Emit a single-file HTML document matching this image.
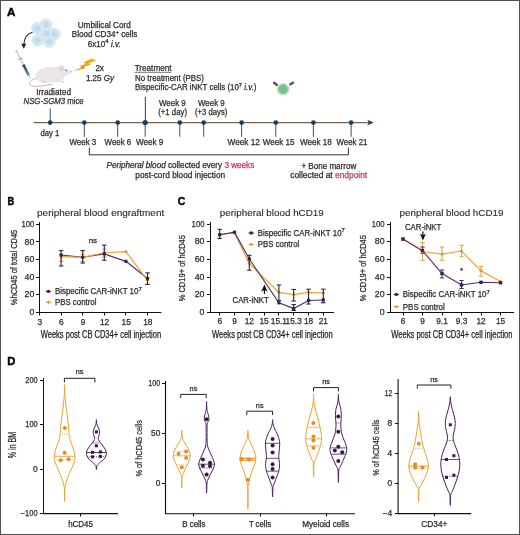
<!DOCTYPE html>
<html><head><meta charset="utf-8"><title>Figure</title>
<style>
html,body{margin:0;padding:0;background:#fff;width:520px;height:535px;overflow:hidden;}
svg{display:block;will-change:transform;}
text{font-family:"Liberation Sans", sans-serif;}
</style></head>
<body>
<svg width="520" height="535" viewBox="0 0 520 535">
<rect x="0.5" y="0.5" width="519" height="534" fill="#fff" stroke="#505050" stroke-width="1"/>
<text x="6.90" y="16.20" font-size="11.5" fill="#000" stroke="#000" font-weight="bold" textLength="8.40" lengthAdjust="spacingAndGlyphs" stroke-width="0.45">A</text>
<circle cx="37.30" cy="28.30" r="5.7" fill="#d8e8f3" stroke="#c6dcec" stroke-width="0.7"/>
<circle cx="46.00" cy="24.60" r="5.7" fill="#d8e8f3" stroke="#c6dcec" stroke-width="0.7"/>
<circle cx="46.00" cy="33.30" r="5.7" fill="#d8e8f3" stroke="#c6dcec" stroke-width="0.7"/>
<circle cx="54.60" cy="34.00" r="5.7" fill="#d8e8f3" stroke="#c6dcec" stroke-width="0.7"/>
<circle cx="37.80" cy="40.30" r="5.7" fill="#d8e8f3" stroke="#c6dcec" stroke-width="0.7"/>
<circle cx="49.30" cy="41.60" r="5.7" fill="#d8e8f3" stroke="#c6dcec" stroke-width="0.7"/>
<circle cx="37.30" cy="28.30" r="3.0" fill="#c3daeb" />
<circle cx="46.00" cy="24.60" r="3.0" fill="#c3daeb" />
<circle cx="46.00" cy="33.30" r="3.0" fill="#c3daeb" />
<circle cx="54.60" cy="34.00" r="3.0" fill="#c3daeb" />
<circle cx="37.80" cy="40.30" r="3.0" fill="#c3daeb" />
<circle cx="49.30" cy="41.60" r="3.0" fill="#c3daeb" />
<path d="M32.5,32.2 C27,33.5 24,38 23.8,45.5" fill="none" stroke="#222" stroke-width="1.1" />
<path d="M21.2,43.8 L23.8,48.8 L26.2,43.8 Z" fill="#222" />
<defs><linearGradient id="syr" x1="0" y1="0" x2="0" y2="1"><stop offset="0" stop-color="#203c54"/><stop offset="1" stop-color="#7b9bb0"/></linearGradient></defs>
<g transform="translate(23.3,64.6) rotate(-27)"><rect x="-1.2" y="-15.6" width="2.4" height="0.9" fill="#9a9a9a"/><rect x="-0.4" y="-15" width="0.8" height="9" fill="#b0b0b0"/><rect x="-2.1" y="-6.8" width="4.2" height="0.9" fill="#8c8c8c"/><rect x="-1.3" y="-6" width="2.6" height="6.2" fill="#d9dee2"/><rect x="-1.3" y="0" width="2.6" height="12.4" fill="url(#syr)"/><rect x="-0.3" y="12.4" width="0.6" height="3.6" fill="#8fb0c8"/></g>
<path d="M37,78.4 C32,78.8 29,81.8 29.6,84.6 C30.4,87.4 40,86.6 52.5,84.2" fill="none" stroke="#dfaab2" stroke-width="1.0" />
<path d="M36.2,76.5 C36,71.5 42,68 49,67.8 C53,67.7 56.5,67 60,67.3 C64.5,67.9 68.5,70 71.6,72 C69.5,73.8 66.8,74.8 64.5,75.8 C63.6,78.8 61,81.2 56,81.8 C50,82.4 43,82.4 39,80.8 C37.2,79.8 36.2,78.4 36.2,76.5 Z" fill="#ebe6e8" stroke="#d6ced2" stroke-width="0.5" />
<ellipse cx="61.3" cy="68.3" rx="2.3" ry="2.6" fill="#efd2d8" stroke="#dcc0c6" stroke-width="0.5"/>
<circle cx="66.20" cy="70.60" r="0.75" fill="#5a5a66" />
<circle cx="71.60" cy="71.60" r="0.6" fill="#e3a0aa" />
<ellipse cx="43.5" cy="81.8" rx="2.4" ry="0.9" fill="#e0d2d6"/>
<ellipse cx="62.6" cy="81.6" rx="2.2" ry="0.9" fill="#e0d2d6"/>
<defs><linearGradient id="bolt" x1="1" y1="0" x2="0" y2="1"><stop offset="0" stop-color="#f7b500"/><stop offset="1" stop-color="#f07f10"/></linearGradient></defs>
<path d="M96,60.6 L92,58.6 L83.8,62.3 L85.6,64 L79.8,66.3 L81.6,67.5 L73.6,71 L85.5,68.3 L84,66.8 L90.6,64.6 L88.6,63.2 Z" fill="url(#bolt)" />
<text x="77.70" y="28.00" font-size="8.3" fill="#2b2b2b" stroke="#2b2b2b" stroke-width="0.25" textLength="53.10" lengthAdjust="spacingAndGlyphs">Umbilical Cord</text>
<text x="71.80" y="37.30" font-size="8.3" fill="#2b2b2b" stroke="#2b2b2b" stroke-width="0.25" textLength="65.60" lengthAdjust="spacingAndGlyphs">Blood CD34<tspan font-size="6.2" dy="-3.5">+</tspan><tspan dy="3.5"> cells</tspan></text>
<text x="87.70" y="46.50" font-size="8.3" fill="#2b2b2b" stroke="#2b2b2b" stroke-width="0.25" textLength="33.10" lengthAdjust="spacingAndGlyphs">6x10<tspan font-size="6.2" dy="-3.5">4</tspan><tspan dy="3.5"> </tspan><tspan font-style="italic">i.v.</tspan></text>
<text x="95.40" y="71.00" font-size="8.3" fill="#2b2b2b" stroke="#2b2b2b" stroke-width="0.25" textLength="8.50" lengthAdjust="spacingAndGlyphs">2x</text>
<text x="85.90" y="80.70" font-size="8.3" fill="#2b2b2b" stroke="#2b2b2b" stroke-width="0.25" textLength="28.10" lengthAdjust="spacingAndGlyphs">1.25 <tspan font-style="italic">Gy</tspan></text>
<text x="36.20" y="94.60" font-size="8.3" fill="#2b2b2b" stroke="#2b2b2b" stroke-width="0.25" textLength="34.80" lengthAdjust="spacingAndGlyphs">Irradiated</text>
<text x="23.50" y="104.20" font-size="8.3" fill="#2b2b2b" stroke="#2b2b2b" stroke-width="0.25" textLength="60.20" lengthAdjust="spacingAndGlyphs"><tspan font-style="italic">NSG-SGM3</tspan> mice</text>
<text x="134.70" y="71.20" font-size="8.3" fill="#2b2b2b" stroke="#2b2b2b" stroke-width="0.25" textLength="36.80" lengthAdjust="spacingAndGlyphs">Treatment</text>
<line x1="134.70" y1="72.40" x2="171.50" y2="72.40" stroke="#2b2b2b" stroke-width="0.6" />
<text x="135.00" y="80.60" font-size="8.3" fill="#2b2b2b" stroke="#2b2b2b" stroke-width="0.25" textLength="69.00" lengthAdjust="spacingAndGlyphs">No treatment (PBS)</text>
<text x="135.00" y="90.00" font-size="8.3" fill="#2b2b2b" stroke="#2b2b2b" stroke-width="0.25" textLength="121.50" lengthAdjust="spacingAndGlyphs">Bispecific-CAR iNKT cells (10<tspan font-size="6.2" dy="-3.5">7</tspan><tspan dy="3.5"> </tspan><tspan font-style="italic">i.v.</tspan>)</text>
<circle cx="283.10" cy="89.20" r="6.3" fill="#bfe0c8" />
<circle cx="283.10" cy="89.20" r="4.6" fill="#74c08e" />
<g transform="translate(275.4,83.8) rotate(40)"><rect x="-2.8" y="-1.15" width="5.6" height="2.3" rx="1" fill="#4a3434"/><rect x="-2.4" y="-0.2" width="4.8" height="0.4" fill="#8a7070"/></g>
<g transform="translate(291.7,83.5) rotate(-30)"><rect x="-2.8" y="-1.15" width="5.6" height="2.3" rx="1" fill="#3a4a60"/><rect x="-2.4" y="-0.2" width="4.8" height="0.4" fill="#7a8aa0"/></g>
<line x1="33.70" y1="122.60" x2="369.00" y2="122.60" stroke="#766452" stroke-width="1.2" />
<path d="M373.8,122.6 L367.2,119.8 L368.8,122.6 L367.2,125.39999999999999 Z" fill="#4a3518" />
<line x1="50.20" y1="108.50" x2="50.20" y2="122.60" stroke="#34546f" stroke-width="1" />
<line x1="145.40" y1="97.00" x2="145.40" y2="122.60" stroke="#34546f" stroke-width="1.1" />
<line x1="84.30" y1="122.60" x2="84.30" y2="136.80" stroke="#34546f" stroke-width="1" />
<line x1="117.70" y1="122.60" x2="117.70" y2="136.80" stroke="#34546f" stroke-width="1" />
<line x1="145.20" y1="122.60" x2="145.20" y2="136.80" stroke="#34546f" stroke-width="1" />
<line x1="179.80" y1="122.60" x2="179.80" y2="136.80" stroke="#34546f" stroke-width="1" />
<line x1="203.70" y1="122.60" x2="203.70" y2="136.80" stroke="#34546f" stroke-width="1" />
<line x1="241.60" y1="122.60" x2="241.60" y2="136.80" stroke="#34546f" stroke-width="1" />
<line x1="275.80" y1="122.60" x2="275.80" y2="136.80" stroke="#34546f" stroke-width="1" />
<line x1="313.40" y1="122.60" x2="313.40" y2="136.80" stroke="#34546f" stroke-width="1" />
<line x1="351.10" y1="122.60" x2="351.10" y2="136.80" stroke="#34546f" stroke-width="1" />
<circle cx="50.20" cy="122.60" r="2.35" fill="#173d60" />
<circle cx="84.30" cy="122.60" r="2.35" fill="#173d60" />
<circle cx="117.70" cy="122.60" r="2.35" fill="#173d60" />
<circle cx="179.80" cy="122.60" r="2.35" fill="#173d60" />
<circle cx="203.70" cy="122.60" r="2.35" fill="#173d60" />
<circle cx="241.60" cy="122.60" r="2.35" fill="#173d60" />
<circle cx="275.80" cy="122.60" r="2.35" fill="#173d60" />
<circle cx="313.40" cy="122.60" r="2.35" fill="#173d60" />
<circle cx="351.10" cy="122.60" r="2.35" fill="#173d60" />
<circle cx="145.20" cy="122.60" r="2.6" fill="#173d60" />
<text x="40.40" y="135.80" font-size="8.3" fill="#2b2b2b" stroke="#2b2b2b" stroke-width="0.25" textLength="18.80" lengthAdjust="spacingAndGlyphs">day 1</text>
<text x="69.40" y="144.60" font-size="8.3" fill="#2b2b2b" stroke="#2b2b2b" stroke-width="0.25" textLength="26.90" lengthAdjust="spacingAndGlyphs">Week 3</text>
<text x="104.60" y="144.60" font-size="8.3" fill="#2b2b2b" stroke="#2b2b2b" stroke-width="0.25" textLength="26.60" lengthAdjust="spacingAndGlyphs">Week 6</text>
<text x="136.00" y="144.60" font-size="8.3" fill="#2b2b2b" stroke="#2b2b2b" stroke-width="0.25" textLength="27.30" lengthAdjust="spacingAndGlyphs">Week 9</text>
<text x="227.50" y="144.60" font-size="8.3" fill="#2b2b2b" stroke="#2b2b2b" stroke-width="0.25" textLength="32.40" lengthAdjust="spacingAndGlyphs">Week 12</text>
<text x="262.70" y="144.60" font-size="8.3" fill="#2b2b2b" stroke="#2b2b2b" stroke-width="0.25" textLength="31.70" lengthAdjust="spacingAndGlyphs">Week 15</text>
<text x="300.00" y="144.60" font-size="8.3" fill="#2b2b2b" stroke="#2b2b2b" stroke-width="0.25" textLength="31.80" lengthAdjust="spacingAndGlyphs">Week 18</text>
<text x="336.60" y="144.60" font-size="8.3" fill="#2b2b2b" stroke="#2b2b2b" stroke-width="0.25" textLength="30.80" lengthAdjust="spacingAndGlyphs">Week 21</text>
<text x="159.00" y="105.90" font-size="8.3" fill="#2b2b2b" stroke="#2b2b2b" stroke-width="0.25" textLength="26.80" lengthAdjust="spacingAndGlyphs">Week 9</text>
<text x="158.20" y="115.00" font-size="8.3" fill="#2b2b2b" stroke="#2b2b2b" stroke-width="0.25" textLength="28.80" lengthAdjust="spacingAndGlyphs">(+1 day)</text>
<text x="198.00" y="105.90" font-size="8.3" fill="#2b2b2b" stroke="#2b2b2b" stroke-width="0.25" textLength="26.80" lengthAdjust="spacingAndGlyphs">Week 9</text>
<text x="195.00" y="115.00" font-size="8.3" fill="#2b2b2b" stroke="#2b2b2b" stroke-width="0.25" textLength="32.40" lengthAdjust="spacingAndGlyphs">(+3 days)</text>
<path d="M89.3,147.6 V154.8 H348.4 V147.6" fill="none" stroke="#333" stroke-width="1" />
<text x="106.50" y="168.20" font-size="8.3" fill="#2b2b2b" stroke="#2b2b2b" stroke-width="0.25" textLength="147.70" lengthAdjust="spacingAndGlyphs"><tspan font-style="italic">Peripheral blood</tspan> collected every <tspan fill="#c8374f" stroke="#c8374f">3 weeks</tspan></text>
<text x="135.30" y="177.50" font-size="8.3" fill="#2b2b2b" stroke="#2b2b2b" stroke-width="0.25" textLength="89.80" lengthAdjust="spacingAndGlyphs">post-cord blood injection</text>
<text x="301.40" y="168.50" font-size="8.3" fill="#2b2b2b" stroke="#2b2b2b" stroke-width="0.25" textLength="54.90" lengthAdjust="spacingAndGlyphs">+ Bone marrow</text>
<text x="290.20" y="177.70" font-size="8.3" fill="#2b2b2b" stroke="#2b2b2b" stroke-width="0.25" textLength="77.00" lengthAdjust="spacingAndGlyphs">collected at <tspan fill="#c8374f" stroke="#c8374f">endpoint</tspan></text>
<text x="7.60" y="204.90" font-size="11.3" fill="#000" stroke="#000" font-weight="bold" textLength="6.70" lengthAdjust="spacingAndGlyphs" stroke-width="0.45">B</text>
<text x="37.10" y="215.90" font-size="9.3" fill="#2b2b2b" stroke="#2b2b2b" textLength="127.10" lengthAdjust="spacingAndGlyphs" stroke-width="0.12">peripheral blood engraftment</text>
<line x1="39.50" y1="222.00" x2="39.50" y2="313.00" stroke="#111" stroke-width="1" />
<line x1="36.00" y1="224.50" x2="39.50" y2="224.50" stroke="#111" stroke-width="1" />
<text x="34.30" y="226.90" font-size="8.8" text-anchor="end" fill="#2b2b2b" stroke="#2b2b2b" stroke-width="0.25" textLength="12.90" lengthAdjust="spacingAndGlyphs">100</text>
<line x1="36.00" y1="241.50" x2="39.50" y2="241.50" stroke="#111" stroke-width="1" />
<text x="34.30" y="244.50" font-size="8.8" text-anchor="end" fill="#2b2b2b" stroke="#2b2b2b" stroke-width="0.25">80</text>
<line x1="36.00" y1="259.50" x2="39.50" y2="259.50" stroke="#111" stroke-width="1" />
<text x="34.30" y="262.10" font-size="8.8" text-anchor="end" fill="#2b2b2b" stroke="#2b2b2b" stroke-width="0.25">60</text>
<line x1="36.00" y1="277.50" x2="39.50" y2="277.50" stroke="#111" stroke-width="1" />
<text x="34.30" y="279.70" font-size="8.8" text-anchor="end" fill="#2b2b2b" stroke="#2b2b2b" stroke-width="0.25">40</text>
<line x1="36.00" y1="294.50" x2="39.50" y2="294.50" stroke="#111" stroke-width="1" />
<text x="34.30" y="297.30" font-size="8.8" text-anchor="end" fill="#2b2b2b" stroke="#2b2b2b" stroke-width="0.25">20</text>
<line x1="36.00" y1="312.50" x2="39.50" y2="312.50" stroke="#111" stroke-width="1" />
<text x="34.30" y="314.90" font-size="8.8" text-anchor="end" fill="#2b2b2b" stroke="#2b2b2b" stroke-width="0.25">0</text>
<line x1="39.50" y1="312.50" x2="161.40" y2="312.50" stroke="#111" stroke-width="1" />
<line x1="39.50" y1="312.50" x2="39.50" y2="315.50" stroke="#111" stroke-width="1" />
<text x="39.80" y="324.80" font-size="8.3" text-anchor="middle" fill="#2b2b2b" stroke="#2b2b2b" stroke-width="0.25">3</text>
<line x1="61.50" y1="312.50" x2="61.50" y2="315.50" stroke="#111" stroke-width="1" />
<text x="61.40" y="324.80" font-size="8.3" text-anchor="middle" fill="#2b2b2b" stroke="#2b2b2b" stroke-width="0.25">6</text>
<line x1="82.50" y1="312.50" x2="82.50" y2="315.50" stroke="#111" stroke-width="1" />
<text x="83.00" y="324.80" font-size="8.3" text-anchor="middle" fill="#2b2b2b" stroke="#2b2b2b" stroke-width="0.25">9</text>
<line x1="104.50" y1="312.50" x2="104.50" y2="315.50" stroke="#111" stroke-width="1" />
<text x="104.60" y="324.80" font-size="8.3" text-anchor="middle" fill="#2b2b2b" stroke="#2b2b2b" stroke-width="0.25">12</text>
<line x1="125.50" y1="312.50" x2="125.50" y2="315.50" stroke="#111" stroke-width="1" />
<text x="126.20" y="324.80" font-size="8.3" text-anchor="middle" fill="#2b2b2b" stroke="#2b2b2b" stroke-width="0.25">15</text>
<line x1="147.50" y1="312.50" x2="147.50" y2="315.50" stroke="#111" stroke-width="1" />
<text x="147.80" y="324.80" font-size="8.3" text-anchor="middle" fill="#2b2b2b" stroke="#2b2b2b" stroke-width="0.25">18</text>
<text x="40.80" y="337.80" font-size="10" fill="#222" stroke="#222" stroke-width="0.25" textLength="120.30" lengthAdjust="spacingAndGlyphs">Weeks post CB CD34+ cell injection</text>
<text transform="translate(16.50,267.50) rotate(-90)" font-size="9.4" text-anchor="middle" textLength="75.40" lengthAdjust="spacingAndGlyphs" fill="#2b2b2b" stroke="#2b2b2b" stroke-width="0.25">%hCD45 of total CD45</text>
<text x="92.90" y="242.60" font-size="8" text-anchor="middle" fill="#2b2b2b" stroke="#2b2b2b" stroke-width="0.25">ns</text>
<line x1="61.10" y1="254.32" x2="61.10" y2="261.36" stroke="#e0a050" stroke-width="1" />
<line x1="58.90" y1="254.32" x2="63.30" y2="254.32" stroke="#e0a050" stroke-width="1" />
<line x1="58.90" y1="261.36" x2="63.30" y2="261.36" stroke="#e0a050" stroke-width="1" />
<line x1="82.70" y1="254.32" x2="82.70" y2="261.36" stroke="#e0a050" stroke-width="1" />
<line x1="80.50" y1="254.32" x2="84.90" y2="254.32" stroke="#e0a050" stroke-width="1" />
<line x1="80.50" y1="261.36" x2="84.90" y2="261.36" stroke="#e0a050" stroke-width="1" />
<line x1="104.30" y1="249.04" x2="104.30" y2="256.96" stroke="#e0a050" stroke-width="1" />
<line x1="102.10" y1="249.04" x2="106.50" y2="249.04" stroke="#e0a050" stroke-width="1" />
<line x1="102.10" y1="256.96" x2="106.50" y2="256.96" stroke="#e0a050" stroke-width="1" />
<line x1="147.50" y1="277.20" x2="147.50" y2="284.24" stroke="#e0a050" stroke-width="1" />
<line x1="145.30" y1="277.20" x2="149.70" y2="277.20" stroke="#e0a050" stroke-width="1" />
<line x1="145.30" y1="284.24" x2="149.70" y2="284.24" stroke="#e0a050" stroke-width="1" />
<polyline points="61.10,255.02 82.70,257.31 104.30,253.88 125.90,261.36 147.50,278.52" fill="none" stroke="#4e2f66" stroke-width="1.1"/>
<polyline points="61.10,256.70 82.70,257.31 104.30,252.74 125.90,251.68 147.50,280.28" fill="none" stroke="#f0a030" stroke-width="1.2"/>
<path d="M59.20,256.70 L61.10,254.80 L63.00,256.70 L61.10,258.60 Z" fill="#e8922a"/>
<path d="M80.80,257.31 L82.70,255.41 L84.60,257.31 L82.70,259.21 Z" fill="#e8922a"/>
<path d="M102.40,252.74 L104.30,250.84 L106.20,252.74 L104.30,254.64 Z" fill="#e8922a"/>
<path d="M124.00,251.68 L125.90,249.78 L127.80,251.68 L125.90,253.58 Z" fill="#e8922a"/>
<path d="M145.60,280.28 L147.50,278.38 L149.40,280.28 L147.50,282.18 Z" fill="#e8922a"/>
<circle cx="61.10" cy="255.02" r="1.8" fill="#3f1d55" />
<circle cx="82.70" cy="257.31" r="1.8" fill="#3f1d55" />
<circle cx="104.30" cy="253.88" r="1.8" fill="#3f1d55" />
<circle cx="125.90" cy="261.36" r="1.8" fill="#3f1d55" />
<circle cx="147.50" cy="278.52" r="1.8" fill="#3f1d55" />
<line x1="61.10" y1="250.62" x2="61.10" y2="266.02" stroke="#2c2440" stroke-width="1.1" />
<line x1="58.90" y1="250.62" x2="63.30" y2="250.62" stroke="#2c2440" stroke-width="1.1" />
<line x1="58.90" y1="266.02" x2="63.30" y2="266.02" stroke="#2c2440" stroke-width="1.1" />
<line x1="82.70" y1="250.62" x2="82.70" y2="263.03" stroke="#2c2440" stroke-width="1.1" />
<line x1="80.50" y1="250.62" x2="84.90" y2="250.62" stroke="#2c2440" stroke-width="1.1" />
<line x1="80.50" y1="263.03" x2="84.90" y2="263.03" stroke="#2c2440" stroke-width="1.1" />
<line x1="104.30" y1="245.17" x2="104.30" y2="260.22" stroke="#2c2440" stroke-width="1.1" />
<line x1="102.10" y1="245.17" x2="106.50" y2="245.17" stroke="#2c2440" stroke-width="1.1" />
<line x1="102.10" y1="260.22" x2="106.50" y2="260.22" stroke="#2c2440" stroke-width="1.1" />
<line x1="147.50" y1="272.89" x2="147.50" y2="284.42" stroke="#2c2440" stroke-width="1.1" />
<line x1="145.30" y1="272.89" x2="149.70" y2="272.89" stroke="#2c2440" stroke-width="1.1" />
<line x1="145.30" y1="284.42" x2="149.70" y2="284.42" stroke="#2c2440" stroke-width="1.1" />
<line x1="45.60" y1="291.40" x2="51.20" y2="291.40" stroke="#4e2f66" stroke-width="1" />
<circle cx="48.40" cy="291.40" r="1.7" fill="#3f1d55" />
<line x1="45.60" y1="302.20" x2="51.20" y2="302.20" stroke="#f0a030" stroke-width="1" />
<path d="M46.60,302.20 L48.40,300.40 L50.20,302.20 L48.40,304.00 Z" fill="#e8922a"/>
<text x="54.90" y="294.30" font-size="8.3" fill="#2b2b2b" stroke="#2b2b2b" stroke-width="0.25" textLength="86.80" lengthAdjust="spacingAndGlyphs">Bispecific CAR-iNKT 10<tspan font-size="6.2" dy="-3.6">7</tspan></text>
<text x="54.90" y="305.10" font-size="8.3" fill="#2b2b2b" stroke="#2b2b2b" stroke-width="0.25" textLength="41.60" lengthAdjust="spacingAndGlyphs">PBS control</text>
<text x="177.70" y="205.00" font-size="11.5" fill="#000" stroke="#000" font-weight="bold" textLength="7.60" lengthAdjust="spacingAndGlyphs" stroke-width="0.45">C</text>
<text x="219.80" y="215.70" font-size="9.3" fill="#2b2b2b" stroke="#2b2b2b" textLength="104.00" lengthAdjust="spacingAndGlyphs" stroke-width="0.12">peripheral blood hCD19</text>
<line x1="210.50" y1="222.00" x2="210.50" y2="313.00" stroke="#111" stroke-width="1" />
<line x1="207.00" y1="224.50" x2="210.50" y2="224.50" stroke="#111" stroke-width="1" />
<text x="204.50" y="226.60" font-size="8.8" text-anchor="end" fill="#2b2b2b" stroke="#2b2b2b" stroke-width="0.25" textLength="12.90" lengthAdjust="spacingAndGlyphs">100</text>
<line x1="207.00" y1="241.50" x2="210.50" y2="241.50" stroke="#111" stroke-width="1" />
<text x="204.50" y="244.24" font-size="8.8" text-anchor="end" fill="#2b2b2b" stroke="#2b2b2b" stroke-width="0.25">80</text>
<line x1="207.00" y1="259.50" x2="210.50" y2="259.50" stroke="#111" stroke-width="1" />
<text x="204.50" y="261.88" font-size="8.8" text-anchor="end" fill="#2b2b2b" stroke="#2b2b2b" stroke-width="0.25">60</text>
<line x1="207.00" y1="277.50" x2="210.50" y2="277.50" stroke="#111" stroke-width="1" />
<text x="204.50" y="279.52" font-size="8.8" text-anchor="end" fill="#2b2b2b" stroke="#2b2b2b" stroke-width="0.25">40</text>
<line x1="207.00" y1="294.50" x2="210.50" y2="294.50" stroke="#111" stroke-width="1" />
<text x="204.50" y="297.16" font-size="8.8" text-anchor="end" fill="#2b2b2b" stroke="#2b2b2b" stroke-width="0.25">20</text>
<line x1="207.00" y1="312.50" x2="210.50" y2="312.50" stroke="#111" stroke-width="1" />
<text x="204.50" y="314.80" font-size="8.8" text-anchor="end" fill="#2b2b2b" stroke="#2b2b2b" stroke-width="0.25">0</text>
<line x1="210.50" y1="312.50" x2="334.00" y2="312.50" stroke="#111" stroke-width="1" />
<line x1="219.50" y1="312.50" x2="219.50" y2="315.50" stroke="#111" stroke-width="1" />
<text x="219.70" y="324.30" font-size="8.3" text-anchor="middle" fill="#2b2b2b" stroke="#2b2b2b" stroke-width="0.25">6</text>
<line x1="234.50" y1="312.50" x2="234.50" y2="315.50" stroke="#111" stroke-width="1" />
<text x="234.50" y="324.30" font-size="8.3" text-anchor="middle" fill="#2b2b2b" stroke="#2b2b2b" stroke-width="0.25">9</text>
<line x1="249.50" y1="312.50" x2="249.50" y2="315.50" stroke="#111" stroke-width="1" />
<text x="249.30" y="324.30" font-size="8.3" text-anchor="middle" fill="#2b2b2b" stroke="#2b2b2b" stroke-width="0.25">12</text>
<line x1="264.50" y1="312.50" x2="264.50" y2="315.50" stroke="#111" stroke-width="1" />
<text x="264.10" y="324.30" font-size="8.3" text-anchor="middle" fill="#2b2b2b" stroke="#2b2b2b" stroke-width="0.25">15</text>
<line x1="278.50" y1="312.50" x2="278.50" y2="315.50" stroke="#111" stroke-width="1" />
<text x="278.90" y="324.30" font-size="8.3" text-anchor="middle" fill="#2b2b2b" stroke="#2b2b2b" stroke-width="0.25">15.1</text>
<line x1="293.50" y1="312.50" x2="293.50" y2="315.50" stroke="#111" stroke-width="1" />
<text x="293.70" y="324.30" font-size="8.3" text-anchor="middle" fill="#2b2b2b" stroke="#2b2b2b" stroke-width="0.25">15.3</text>
<line x1="308.50" y1="312.50" x2="308.50" y2="315.50" stroke="#111" stroke-width="1" />
<text x="308.50" y="324.30" font-size="8.3" text-anchor="middle" fill="#2b2b2b" stroke="#2b2b2b" stroke-width="0.25">18</text>
<line x1="323.50" y1="312.50" x2="323.50" y2="315.50" stroke="#111" stroke-width="1" />
<text x="323.30" y="324.30" font-size="8.3" text-anchor="middle" fill="#2b2b2b" stroke="#2b2b2b" stroke-width="0.25">21</text>
<text x="212.00" y="337.80" font-size="10" fill="#222" stroke="#222" stroke-width="0.25" textLength="120.70" lengthAdjust="spacingAndGlyphs">Weeks post CB CD34+ cell injection</text>
<text transform="translate(185.10,268.20) rotate(-90)" font-size="8.6" text-anchor="middle" textLength="66.30" lengthAdjust="spacingAndGlyphs" fill="#2b2b2b" stroke="#2b2b2b" stroke-width="0.25">% CD19+ of hCD45</text>
<polyline points="219.70,234.68 234.50,232.92 249.30,263.53 278.90,292.37 293.70,294.66 308.50,292.37 323.30,292.98" fill="none" stroke="#f0a030" stroke-width="1.2"/>
<path d="M217.80,234.68 L219.70,232.78 L221.60,234.68 L219.70,236.58 Z" fill="#e8922a"/>
<path d="M232.60,232.92 L234.50,231.02 L236.40,232.92 L234.50,234.82 Z" fill="#e8922a"/>
<path d="M247.40,263.53 L249.30,261.63 L251.20,263.53 L249.30,265.43 Z" fill="#e8922a"/>
<path d="M277.00,292.37 L278.90,290.47 L280.80,292.37 L278.90,294.27 Z" fill="#e8922a"/>
<path d="M291.80,294.66 L293.70,292.76 L295.60,294.66 L293.70,296.56 Z" fill="#e8922a"/>
<path d="M306.60,292.37 L308.50,290.47 L310.40,292.37 L308.50,294.27 Z" fill="#e8922a"/>
<path d="M321.40,292.98 L323.30,291.08 L325.20,292.98 L323.30,294.88 Z" fill="#e8922a"/>
<polyline points="219.70,234.68 234.50,232.21 249.30,258.94 278.90,302.77 293.70,308.60 308.50,300.48 323.30,299.95" fill="none" stroke="#4e2f66" stroke-width="1.1"/>
<rect x="218.10" y="233.08" width="3.2" height="3.2" fill="#3f1d55"/>
<rect x="232.90" y="230.61" width="3.2" height="3.2" fill="#3f1d55"/>
<rect x="247.70" y="257.34" width="3.2" height="3.2" fill="#3f1d55"/>
<rect x="277.30" y="301.17" width="3.2" height="3.2" fill="#3f1d55"/>
<rect x="292.10" y="307.00" width="3.2" height="3.2" fill="#3f1d55"/>
<rect x="306.90" y="298.88" width="3.2" height="3.2" fill="#3f1d55"/>
<rect x="321.70" y="298.35" width="3.2" height="3.2" fill="#3f1d55"/>
<line x1="219.70" y1="229.30" x2="219.70" y2="238.48" stroke="#2e2838" stroke-width="1.1" />
<line x1="217.50" y1="229.30" x2="221.90" y2="229.30" stroke="#2e2838" stroke-width="1.1" />
<line x1="217.50" y1="238.48" x2="221.90" y2="238.48" stroke="#2e2838" stroke-width="1.1" />
<line x1="249.30" y1="255.32" x2="249.30" y2="270.23" stroke="#2e2838" stroke-width="1.1" />
<line x1="247.10" y1="255.32" x2="251.50" y2="255.32" stroke="#2e2838" stroke-width="1.1" />
<line x1="247.10" y1="270.23" x2="251.50" y2="270.23" stroke="#2e2838" stroke-width="1.1" />
<line x1="278.90" y1="284.96" x2="278.90" y2="300.48" stroke="#2e2838" stroke-width="1.1" />
<line x1="276.70" y1="284.96" x2="281.10" y2="284.96" stroke="#2e2838" stroke-width="1.1" />
<line x1="276.70" y1="300.48" x2="281.10" y2="300.48" stroke="#2e2838" stroke-width="1.1" />
<line x1="293.70" y1="289.46" x2="293.70" y2="301.01" stroke="#2e2838" stroke-width="1.1" />
<line x1="291.50" y1="289.46" x2="295.90" y2="289.46" stroke="#2e2838" stroke-width="1.1" />
<line x1="291.50" y1="301.01" x2="295.90" y2="301.01" stroke="#2e2838" stroke-width="1.1" />
<line x1="293.70" y1="304.54" x2="293.70" y2="310.54" stroke="#2e2838" stroke-width="1.1" />
<line x1="291.50" y1="304.54" x2="295.90" y2="304.54" stroke="#2e2838" stroke-width="1.1" />
<line x1="291.50" y1="310.54" x2="295.90" y2="310.54" stroke="#2e2838" stroke-width="1.1" />
<line x1="308.50" y1="289.19" x2="308.50" y2="304.01" stroke="#2e2838" stroke-width="1.1" />
<line x1="306.30" y1="289.19" x2="310.70" y2="289.19" stroke="#2e2838" stroke-width="1.1" />
<line x1="306.30" y1="304.01" x2="310.70" y2="304.01" stroke="#2e2838" stroke-width="1.1" />
<line x1="323.30" y1="289.19" x2="323.30" y2="302.77" stroke="#2e2838" stroke-width="1.1" />
<line x1="321.10" y1="289.19" x2="325.50" y2="289.19" stroke="#2e2838" stroke-width="1.1" />
<line x1="321.10" y1="302.77" x2="325.50" y2="302.77" stroke="#2e2838" stroke-width="1.1" />
<path d="M264.4,294 V289" fill="none" stroke="#111" stroke-width="1.1" />
<path d="M264.4,284.4 L261.2,291.5 L264.4,289.9 L267.6,291.5 Z" fill="#111" />
<text x="232.60" y="303.40" font-size="8.3" fill="#2b2b2b" stroke="#2b2b2b" stroke-width="0.25" textLength="36.00" lengthAdjust="spacingAndGlyphs">CAR-iNKT</text>
<line x1="248.40" y1="233.00" x2="254.00" y2="233.00" stroke="#4e2f66" stroke-width="1" />
<circle cx="251.20" cy="233.00" r="1.7" fill="#3f1d55" />
<line x1="248.40" y1="244.40" x2="254.00" y2="244.40" stroke="#f0a030" stroke-width="1" />
<path d="M249.40,244.40 L251.20,242.60 L253.00,244.40 L251.20,246.20 Z" fill="#e8922a"/>
<text x="257.70" y="235.90" font-size="8.3" fill="#2b2b2b" stroke="#2b2b2b" stroke-width="0.25" textLength="87.20" lengthAdjust="spacingAndGlyphs">Bispecific CAR-iNKT 10<tspan font-size="6.2" dy="-3.6">7</tspan></text>
<text x="257.70" y="247.30" font-size="8.3" fill="#2b2b2b" stroke="#2b2b2b" stroke-width="0.25" textLength="41.60" lengthAdjust="spacingAndGlyphs">PBS control</text>
<text x="399.60" y="215.70" font-size="9.3" fill="#2b2b2b" stroke="#2b2b2b" textLength="103.90" lengthAdjust="spacingAndGlyphs" stroke-width="0.12">peripheral blood hCD19</text>
<line x1="390.50" y1="222.00" x2="390.50" y2="313.00" stroke="#111" stroke-width="1" />
<line x1="387.00" y1="224.50" x2="390.50" y2="224.50" stroke="#111" stroke-width="1" />
<text x="384.60" y="226.60" font-size="8.8" text-anchor="end" fill="#2b2b2b" stroke="#2b2b2b" stroke-width="0.25" textLength="12.90" lengthAdjust="spacingAndGlyphs">100</text>
<line x1="387.00" y1="241.50" x2="390.50" y2="241.50" stroke="#111" stroke-width="1" />
<text x="384.60" y="244.24" font-size="8.8" text-anchor="end" fill="#2b2b2b" stroke="#2b2b2b" stroke-width="0.25">80</text>
<line x1="387.00" y1="259.50" x2="390.50" y2="259.50" stroke="#111" stroke-width="1" />
<text x="384.60" y="261.88" font-size="8.8" text-anchor="end" fill="#2b2b2b" stroke="#2b2b2b" stroke-width="0.25">60</text>
<line x1="387.00" y1="277.50" x2="390.50" y2="277.50" stroke="#111" stroke-width="1" />
<text x="384.60" y="279.52" font-size="8.8" text-anchor="end" fill="#2b2b2b" stroke="#2b2b2b" stroke-width="0.25">40</text>
<line x1="387.00" y1="294.50" x2="390.50" y2="294.50" stroke="#111" stroke-width="1" />
<text x="384.60" y="297.16" font-size="8.8" text-anchor="end" fill="#2b2b2b" stroke="#2b2b2b" stroke-width="0.25">20</text>
<line x1="387.00" y1="312.50" x2="390.50" y2="312.50" stroke="#111" stroke-width="1" />
<text x="384.60" y="314.80" font-size="8.8" text-anchor="end" fill="#2b2b2b" stroke="#2b2b2b" stroke-width="0.25">0</text>
<line x1="390.50" y1="312.50" x2="514.10" y2="312.50" stroke="#111" stroke-width="1" />
<line x1="403.50" y1="312.50" x2="403.50" y2="315.50" stroke="#111" stroke-width="1" />
<text x="403.00" y="324.00" font-size="8.3" text-anchor="middle" fill="#2b2b2b" stroke="#2b2b2b" stroke-width="0.25">6</text>
<line x1="422.50" y1="312.50" x2="422.50" y2="315.50" stroke="#111" stroke-width="1" />
<text x="422.50" y="324.00" font-size="8.3" text-anchor="middle" fill="#2b2b2b" stroke="#2b2b2b" stroke-width="0.25">9</text>
<line x1="442.50" y1="312.50" x2="442.50" y2="315.50" stroke="#111" stroke-width="1" />
<text x="442.00" y="324.00" font-size="8.3" text-anchor="middle" fill="#2b2b2b" stroke="#2b2b2b" stroke-width="0.25">9.1</text>
<line x1="461.50" y1="312.50" x2="461.50" y2="315.50" stroke="#111" stroke-width="1" />
<text x="461.50" y="324.00" font-size="8.3" text-anchor="middle" fill="#2b2b2b" stroke="#2b2b2b" stroke-width="0.25">9.3</text>
<line x1="481.50" y1="312.50" x2="481.50" y2="315.50" stroke="#111" stroke-width="1" />
<text x="481.00" y="324.00" font-size="8.3" text-anchor="middle" fill="#2b2b2b" stroke="#2b2b2b" stroke-width="0.25">12</text>
<line x1="500.50" y1="312.50" x2="500.50" y2="315.50" stroke="#111" stroke-width="1" />
<text x="500.50" y="324.00" font-size="8.3" text-anchor="middle" fill="#2b2b2b" stroke="#2b2b2b" stroke-width="0.25">15</text>
<text x="391.30" y="337.60" font-size="10" fill="#222" stroke="#222" stroke-width="0.25" textLength="121.20" lengthAdjust="spacingAndGlyphs">Weeks post CB CD34+ cell injection</text>
<text transform="translate(366.10,268.20) rotate(-90)" font-size="8.6" text-anchor="middle" textLength="66.30" lengthAdjust="spacingAndGlyphs" fill="#2b2b2b" stroke="#2b2b2b" stroke-width="0.25">% CD19+ of hCD45</text>
<line x1="403.00" y1="238.21" x2="403.00" y2="239.98" stroke="#e0a040" stroke-width="1" />
<line x1="400.80" y1="238.21" x2="405.20" y2="238.21" stroke="#e0a040" stroke-width="1" />
<line x1="400.80" y1="239.98" x2="405.20" y2="239.98" stroke="#e0a040" stroke-width="1" />
<line x1="422.50" y1="242.62" x2="422.50" y2="260.26" stroke="#e0a040" stroke-width="1" />
<line x1="420.30" y1="242.62" x2="424.70" y2="242.62" stroke="#e0a040" stroke-width="1" />
<line x1="420.30" y1="260.26" x2="424.70" y2="260.26" stroke="#e0a040" stroke-width="1" />
<line x1="442.00" y1="247.03" x2="442.00" y2="260.26" stroke="#e0a040" stroke-width="1" />
<line x1="439.80" y1="247.03" x2="444.20" y2="247.03" stroke="#e0a040" stroke-width="1" />
<line x1="439.80" y1="260.26" x2="444.20" y2="260.26" stroke="#e0a040" stroke-width="1" />
<line x1="461.50" y1="245.27" x2="461.50" y2="256.73" stroke="#e0a040" stroke-width="1" />
<line x1="459.30" y1="245.27" x2="463.70" y2="245.27" stroke="#e0a040" stroke-width="1" />
<line x1="459.30" y1="256.73" x2="463.70" y2="256.73" stroke="#e0a040" stroke-width="1" />
<line x1="481.00" y1="266.44" x2="481.00" y2="276.14" stroke="#e0a040" stroke-width="1" />
<line x1="478.80" y1="266.44" x2="483.20" y2="266.44" stroke="#e0a040" stroke-width="1" />
<line x1="478.80" y1="276.14" x2="483.20" y2="276.14" stroke="#e0a040" stroke-width="1" />
<line x1="422.50" y1="247.03" x2="422.50" y2="253.21" stroke="#4a2b5e" stroke-width="1" />
<line x1="420.30" y1="247.03" x2="424.70" y2="247.03" stroke="#4a2b5e" stroke-width="1" />
<line x1="420.30" y1="253.21" x2="424.70" y2="253.21" stroke="#4a2b5e" stroke-width="1" />
<line x1="442.00" y1="269.96" x2="442.00" y2="277.90" stroke="#4a2b5e" stroke-width="1" />
<line x1="439.80" y1="269.96" x2="444.20" y2="269.96" stroke="#4a2b5e" stroke-width="1" />
<line x1="439.80" y1="277.90" x2="444.20" y2="277.90" stroke="#4a2b5e" stroke-width="1" />
<line x1="461.50" y1="280.55" x2="461.50" y2="288.49" stroke="#4a2b5e" stroke-width="1" />
<line x1="459.30" y1="280.55" x2="463.70" y2="280.55" stroke="#4a2b5e" stroke-width="1" />
<line x1="459.30" y1="288.49" x2="463.70" y2="288.49" stroke="#4a2b5e" stroke-width="1" />
<polyline points="403.00,239.09 422.50,251.44 442.00,254.09 461.50,251.00 481.00,270.85 500.50,281.43" fill="none" stroke="#f0a030" stroke-width="1.1"/>
<polyline points="403.00,239.09 422.50,250.56 442.00,273.49 461.50,284.96 481.00,282.31 500.50,282.75" fill="none" stroke="#4e2f66" stroke-width="1.1"/>
<path d="M401.10,239.09 L403.00,237.19 L404.90,239.09 L403.00,240.99 Z" fill="#e8922a"/>
<path d="M420.60,251.44 L422.50,249.54 L424.40,251.44 L422.50,253.34 Z" fill="#e8922a"/>
<path d="M440.10,254.09 L442.00,252.19 L443.90,254.09 L442.00,255.99 Z" fill="#e8922a"/>
<path d="M459.60,251.00 L461.50,249.10 L463.40,251.00 L461.50,252.90 Z" fill="#e8922a"/>
<path d="M479.10,270.85 L481.00,268.95 L482.90,270.85 L481.00,272.75 Z" fill="#e8922a"/>
<path d="M498.60,281.43 L500.50,279.53 L502.40,281.43 L500.50,283.33 Z" fill="#e8922a"/>
<rect x="401.30" y="237.39" width="3.4" height="3.4" fill="#3f1d55"/>
<rect x="420.80" y="248.86" width="3.4" height="3.4" fill="#3f1d55"/>
<rect x="440.30" y="271.79" width="3.4" height="3.4" fill="#3f1d55"/>
<rect x="459.80" y="283.26" width="3.4" height="3.4" fill="#3f1d55"/>
<rect x="479.30" y="280.61" width="3.4" height="3.4" fill="#3f1d55"/>
<rect x="498.80" y="281.05" width="3.4" height="3.4" fill="#3f1d55"/>
<text x="461.50" y="273.00" font-size="8" text-anchor="middle" fill="#2b2b2b" stroke="#2b2b2b" stroke-width="0.25">*</text>
<path d="M422.9,231.4 V236" fill="none" stroke="#111" stroke-width="1.2" />
<path d="M422.9,240.5 L419.9,233.8 L422.9,235.3 L425.9,233.8 Z" fill="#111" />
<text x="405.00" y="229.80" font-size="8.3" fill="#2b2b2b" stroke="#2b2b2b" stroke-width="0.25" textLength="36.30" lengthAdjust="spacingAndGlyphs">CAR-iNKT</text>
<line x1="393.50" y1="294.50" x2="399.10" y2="294.50" stroke="#4e2f66" stroke-width="1" />
<circle cx="396.30" cy="294.50" r="1.7" fill="#3f1d55" />
<line x1="393.50" y1="306.80" x2="399.10" y2="306.80" stroke="#f0a030" stroke-width="1" />
<path d="M394.50,306.80 L396.30,305.00 L398.10,306.80 L396.30,308.60 Z" fill="#e8922a"/>
<text x="402.80" y="297.40" font-size="8.3" fill="#2b2b2b" stroke="#2b2b2b" stroke-width="0.25" textLength="87.00" lengthAdjust="spacingAndGlyphs">Bispecific CAR-iNKT 10<tspan font-size="6.2" dy="-3.6">7</tspan></text>
<text x="402.80" y="309.70" font-size="8.3" fill="#2b2b2b" stroke="#2b2b2b" stroke-width="0.25" textLength="42.00" lengthAdjust="spacingAndGlyphs">PBS control</text>
<text x="7.30" y="365.40" font-size="11.5" fill="#000" stroke="#000" font-weight="bold" textLength="8.10" lengthAdjust="spacingAndGlyphs" stroke-width="0.45">D</text>
<line x1="43.50" y1="378.00" x2="43.50" y2="513.50" stroke="#111" stroke-width="1" />
<line x1="40.00" y1="380.50" x2="43.50" y2="380.50" stroke="#111" stroke-width="1" />
<text x="37.60" y="382.59" font-size="8.4" text-anchor="end" fill="#2b2b2b" stroke="#2b2b2b" stroke-width="0.25" textLength="12.30" lengthAdjust="spacingAndGlyphs">200</text>
<line x1="40.00" y1="424.50" x2="43.50" y2="424.50" stroke="#111" stroke-width="1" />
<text x="37.60" y="427.07" font-size="8.4" text-anchor="end" fill="#2b2b2b" stroke="#2b2b2b" stroke-width="0.25" textLength="12.30" lengthAdjust="spacingAndGlyphs">100</text>
<line x1="40.00" y1="469.50" x2="43.50" y2="469.50" stroke="#111" stroke-width="1" />
<text x="37.60" y="471.55" font-size="8.4" text-anchor="end" fill="#2b2b2b" stroke="#2b2b2b" stroke-width="0.25">0</text>
<line x1="40.00" y1="513.50" x2="43.50" y2="513.50" stroke="#111" stroke-width="1" />
<text x="37.60" y="516.03" font-size="8.4" text-anchor="end" fill="#2b2b2b" stroke="#2b2b2b" stroke-width="0.25" textLength="16.90" lengthAdjust="spacingAndGlyphs">−100</text>
<line x1="43.00" y1="513.70" x2="118.00" y2="513.70" stroke="#111" stroke-width="1.2" />
<line x1="80.50" y1="513.50" x2="80.50" y2="516.50" stroke="#111" stroke-width="1" />
<text x="80.50" y="526.50" font-size="8.3" text-anchor="middle" fill="#2b2b2b" stroke="#2b2b2b" stroke-width="0.25" textLength="24.60" lengthAdjust="spacingAndGlyphs">hCD45</text>
<text transform="translate(15.90,445.00) rotate(-90)" font-size="10" text-anchor="middle" textLength="26.40" lengthAdjust="spacingAndGlyphs" fill="#2b2b2b" stroke="#2b2b2b" stroke-width="0.25">% in BM</text>
<path d="M64.40,382.50 V378.30 H94.90 V382.50" fill="none" stroke="#222" stroke-width="1" />
<text x="79.65" y="374.30" font-size="7.3" text-anchor="middle" fill="#2b2b2b" stroke="#2b2b2b" stroke-width="0.25">ns</text>
<path d="M64.60,384.60 C64.70,384.60 64.70,391.60 64.90,395.00 C65.10,398.40 65.42,401.67 65.80,405.00 C66.18,408.33 66.77,411.67 67.20,415.00 C67.63,418.33 68.07,421.67 68.40,425.00 C68.73,428.33 68.80,432.17 69.20,435.00 C69.60,437.83 70.15,439.83 70.80,442.00 C71.45,444.17 72.40,445.62 73.10,448.00 C73.80,450.38 74.82,453.97 75.00,456.30 C75.18,458.63 74.73,460.05 74.20,462.00 C73.67,463.95 72.65,466.00 71.80,468.00 C70.95,470.00 69.93,472.00 69.10,474.00 C68.27,476.00 67.45,478.00 66.80,480.00 C66.15,482.00 65.53,484.33 65.20,486.00 C64.87,487.67 64.90,487.42 64.80,490.00 C64.70,492.58 64.67,501.50 64.60,501.50 C64.53,501.50 64.50,492.58 64.40,490.00 C64.30,487.42 64.33,487.67 64.00,486.00 C63.67,484.33 63.05,482.00 62.40,480.00 C61.75,478.00 60.93,476.00 60.10,474.00 C59.27,472.00 58.25,470.00 57.40,468.00 C56.55,466.00 55.53,463.95 55.00,462.00 C54.47,460.05 54.02,458.63 54.20,456.30 C54.38,453.97 55.40,450.38 56.10,448.00 C56.80,445.62 57.75,444.17 58.40,442.00 C59.05,439.83 59.60,437.83 60.00,435.00 C60.40,432.17 60.47,428.33 60.80,425.00 C61.13,421.67 61.57,418.33 62.00,415.00 C62.43,411.67 63.02,408.33 63.40,405.00 C63.78,401.67 64.10,398.40 64.30,395.00 C64.50,391.60 64.50,384.60 64.60,384.60 Z" fill="none" stroke="#f0a030" stroke-width="1"/>
<line x1="54.30" y1="456.30" x2="74.90" y2="456.30" stroke="#f0a030" stroke-width="0.9" />
<line x1="61.90" y1="434.40" x2="67.30" y2="434.40" stroke="#f0a030" stroke-width="0.8" stroke-dasharray="1.2,1"/>
<line x1="56.40" y1="459.70" x2="72.80" y2="459.70" stroke="#f0a030" stroke-width="0.8" stroke-dasharray="1.2,1"/>
<circle cx="64.80" cy="428.00" r="2.0" fill="#e88a25" />
<circle cx="64.60" cy="452.70" r="2.0" fill="#e88a25" />
<circle cx="60.70" cy="460.30" r="2.0" fill="#e88a25" />
<circle cx="68.50" cy="459.30" r="2.0" fill="#e88a25" />
<path d="M96.40,419.70 C96.57,419.70 96.53,423.22 96.90,424.60 C97.27,425.98 98.15,426.78 98.60,428.00 C99.05,429.22 99.53,430.65 99.60,431.90 C99.67,433.15 99.25,434.45 99.00,435.50 C98.75,436.55 98.07,437.28 98.10,438.20 C98.13,439.12 98.52,439.87 99.20,441.00 C99.88,442.13 101.23,443.67 102.20,445.00 C103.17,446.33 104.30,447.75 105.00,449.00 C105.70,450.25 106.27,451.33 106.40,452.50 C106.53,453.67 106.27,454.83 105.80,456.00 C105.33,457.17 104.47,458.50 103.60,459.50 C102.73,460.50 101.55,461.17 100.60,462.00 C99.65,462.83 98.53,463.83 97.90,464.50 C97.27,465.17 97.05,465.17 96.80,466.00 C96.55,466.83 96.53,469.50 96.40,469.50 C96.27,469.50 96.25,466.83 96.00,466.00 C95.75,465.17 95.53,465.17 94.90,464.50 C94.27,463.83 93.15,462.83 92.20,462.00 C91.25,461.17 90.07,460.50 89.20,459.50 C88.33,458.50 87.47,457.17 87.00,456.00 C86.53,454.83 86.27,453.67 86.40,452.50 C86.53,451.33 87.10,450.25 87.80,449.00 C88.50,447.75 89.63,446.33 90.60,445.00 C91.57,443.67 92.92,442.13 93.60,441.00 C94.28,439.87 94.67,439.12 94.70,438.20 C94.73,437.28 94.05,436.55 93.80,435.50 C93.55,434.45 93.13,433.15 93.20,431.90 C93.27,430.65 93.75,429.22 94.20,428.00 C94.65,426.78 95.53,425.98 95.90,424.60 C96.27,423.22 96.23,419.70 96.40,419.70 Z" fill="none" stroke="#4a2060" stroke-width="1"/>
<line x1="86.40" y1="452.50" x2="106.40" y2="452.50" stroke="#4a2060" stroke-width="0.9" />
<line x1="87.20" y1="456.80" x2="105.60" y2="456.80" stroke="#4a2060" stroke-width="0.8" stroke-dasharray="1.2,1"/>
<line x1="93.20" y1="442.80" x2="99.60" y2="442.80" stroke="#4a2060" stroke-width="0.8" stroke-dasharray="1.2,1"/>
<rect x="94.90" y="430.40" width="3.0" height="3.0" fill="#3a1550"/>
<rect x="94.90" y="444.30" width="3.0" height="3.0" fill="#3a1550"/>
<rect x="91.00" y="450.80" width="3.0" height="3.0" fill="#3a1550"/>
<rect x="98.90" y="450.40" width="3.0" height="3.0" fill="#3a1550"/>
<rect x="91.00" y="455.30" width="3.0" height="3.0" fill="#3a1550"/>
<rect x="98.90" y="454.90" width="3.0" height="3.0" fill="#3a1550"/>
<path d="M165.5,381 V513.7 H355" fill="none" stroke="#111" stroke-width="1.15" stroke-linejoin="round"/>
<line x1="162.00" y1="383.50" x2="165.50" y2="383.50" stroke="#111" stroke-width="1" />
<text x="160.30" y="386.40" font-size="8.4" text-anchor="end" fill="#2b2b2b" stroke="#2b2b2b" stroke-width="0.25" textLength="12.00" lengthAdjust="spacingAndGlyphs">100</text>
<line x1="162.00" y1="433.50" x2="165.50" y2="433.50" stroke="#111" stroke-width="1" />
<text x="160.30" y="436.40" font-size="8.4" text-anchor="end" fill="#2b2b2b" stroke="#2b2b2b" stroke-width="0.25">50</text>
<line x1="162.00" y1="483.50" x2="165.50" y2="483.50" stroke="#111" stroke-width="1" />
<text x="160.30" y="486.40" font-size="8.4" text-anchor="end" fill="#2b2b2b" stroke="#2b2b2b" stroke-width="0.25">0</text>
<line x1="193.50" y1="513.50" x2="193.50" y2="516.50" stroke="#111" stroke-width="1" />
<text x="182.20" y="526.50" font-size="8.3" fill="#2b2b2b" stroke="#2b2b2b" stroke-width="0.25" textLength="23.40" lengthAdjust="spacingAndGlyphs">B cells</text>
<line x1="260.50" y1="513.50" x2="260.50" y2="516.50" stroke="#111" stroke-width="1" />
<text x="248.90" y="526.50" font-size="8.3" fill="#2b2b2b" stroke="#2b2b2b" stroke-width="0.25" textLength="22.10" lengthAdjust="spacingAndGlyphs">T cells</text>
<line x1="326.50" y1="513.50" x2="326.50" y2="516.50" stroke="#111" stroke-width="1" />
<text x="302.20" y="526.50" font-size="8.3" fill="#2b2b2b" stroke="#2b2b2b" stroke-width="0.25" textLength="46.80" lengthAdjust="spacingAndGlyphs">Myeloid cells</text>
<text transform="translate(141.60,448.30) rotate(-90)" font-size="9.6" text-anchor="middle" textLength="56.50" lengthAdjust="spacingAndGlyphs" fill="#2b2b2b" stroke="#2b2b2b" stroke-width="0.25">% of hCD45 cells</text>
<path d="M180.70,398.00 V394.40 H206.20 V398.00" fill="none" stroke="#222" stroke-width="1" />
<text x="193.45" y="390.50" font-size="7.3" text-anchor="middle" fill="#2b2b2b" stroke="#2b2b2b" stroke-width="0.25">ns</text>
<path d="M246.80,415.00 V411.20 H272.60 V415.00" fill="none" stroke="#222" stroke-width="1" />
<text x="259.70" y="407.60" font-size="7.3" text-anchor="middle" fill="#2b2b2b" stroke="#2b2b2b" stroke-width="0.25">ns</text>
<path d="M313.50,391.40 V387.60 H338.60 V391.40" fill="none" stroke="#222" stroke-width="1" />
<text x="326.05" y="383.60" font-size="7.3" text-anchor="middle" fill="#2b2b2b" stroke="#2b2b2b" stroke-width="0.25">ns</text>
<path d="M181.80,430.00 C181.87,430.00 181.87,432.57 182.00,434.00 C182.13,435.43 182.13,437.10 182.60,438.60 C183.07,440.10 183.93,441.43 184.80,443.00 C185.67,444.57 187.00,446.50 187.80,448.00 C188.60,449.50 189.20,450.70 189.60,452.00 C190.00,453.30 190.23,454.47 190.20,455.80 C190.17,457.13 189.90,458.47 189.40,460.00 C188.90,461.53 187.97,463.33 187.20,465.00 C186.43,466.67 185.50,468.50 184.80,470.00 C184.10,471.50 183.45,472.78 183.00,474.00 C182.55,475.22 182.30,474.97 182.10,477.30 C181.90,479.63 181.90,488.00 181.80,488.00 C181.70,488.00 181.70,479.63 181.50,477.30 C181.30,474.97 181.05,475.22 180.60,474.00 C180.15,472.78 179.50,471.50 178.80,470.00 C178.10,468.50 177.17,466.67 176.40,465.00 C175.63,463.33 174.70,461.53 174.20,460.00 C173.70,458.47 173.43,457.13 173.40,455.80 C173.37,454.47 173.60,453.30 174.00,452.00 C174.40,450.70 175.00,449.50 175.80,448.00 C176.60,446.50 177.93,444.57 178.80,443.00 C179.67,441.43 180.53,440.10 181.00,438.60 C181.47,437.10 181.47,435.43 181.60,434.00 C181.73,432.57 181.73,430.00 181.80,430.00 Z" fill="none" stroke="#f0a030" stroke-width="1"/>
<line x1="173.50" y1="455.80" x2="190.10" y2="455.80" stroke="#f0a030" stroke-width="0.8" />
<line x1="174.20" y1="451.40" x2="189.40" y2="451.40" stroke="#f0a030" stroke-width="0.8" stroke-dasharray="1.2,1"/>
<line x1="176.20" y1="464.80" x2="187.40" y2="464.80" stroke="#f0a030" stroke-width="0.8" stroke-dasharray="1.2,1"/>
<circle cx="178.60" cy="453.70" r="2.0" fill="#e88a25" />
<circle cx="186.10" cy="451.50" r="2.0" fill="#e88a25" />
<circle cx="186.10" cy="458.00" r="2.0" fill="#e88a25" />
<circle cx="181.80" cy="467.20" r="2.0" fill="#e88a25" />
<path d="M206.60,401.50 C206.70,401.50 206.70,407.08 206.90,409.00 C207.10,410.92 207.52,411.83 207.80,413.00 C208.08,414.17 208.40,414.95 208.60,416.00 C208.80,417.05 209.05,418.38 209.00,419.30 C208.95,420.22 208.58,420.80 208.30,421.50 C208.02,422.20 207.52,422.08 207.30,423.50 C207.08,424.92 207.03,427.25 207.00,430.00 C206.97,432.75 207.00,437.33 207.10,440.00 C207.20,442.67 207.28,444.33 207.60,446.00 C207.92,447.67 208.40,448.50 209.00,450.00 C209.60,451.50 210.47,453.33 211.20,455.00 C211.93,456.67 212.85,458.47 213.40,460.00 C213.95,461.53 214.47,462.87 214.50,464.20 C214.53,465.53 214.08,466.70 213.60,468.00 C213.12,469.30 212.27,470.67 211.60,472.00 C210.93,473.33 210.23,474.67 209.60,476.00 C208.97,477.33 208.23,478.83 207.80,480.00 C207.37,481.17 207.20,480.82 207.00,483.00 C206.80,485.18 206.73,493.10 206.60,493.10 C206.47,493.10 206.40,485.18 206.20,483.00 C206.00,480.82 205.83,481.17 205.40,480.00 C204.97,478.83 204.23,477.33 203.60,476.00 C202.97,474.67 202.27,473.33 201.60,472.00 C200.93,470.67 200.08,469.30 199.60,468.00 C199.12,466.70 198.67,465.53 198.70,464.20 C198.73,462.87 199.25,461.53 199.80,460.00 C200.35,458.47 201.27,456.67 202.00,455.00 C202.73,453.33 203.60,451.50 204.20,450.00 C204.80,448.50 205.28,447.67 205.60,446.00 C205.92,444.33 206.00,442.67 206.10,440.00 C206.20,437.33 206.23,432.75 206.20,430.00 C206.17,427.25 206.12,424.92 205.90,423.50 C205.68,422.08 205.18,422.20 204.90,421.50 C204.62,420.80 204.25,420.22 204.20,419.30 C204.15,418.38 204.40,417.05 204.60,416.00 C204.80,414.95 205.12,414.17 205.40,413.00 C205.68,411.83 206.10,410.92 206.30,409.00 C206.50,407.08 206.50,401.50 206.60,401.50 Z" fill="none" stroke="#4a2060" stroke-width="1"/>
<line x1="198.70" y1="464.20" x2="214.50" y2="464.20" stroke="#4a2060" stroke-width="0.8" />
<line x1="199.80" y1="467.90" x2="213.40" y2="467.90" stroke="#4a2060" stroke-width="0.8" stroke-dasharray="1.2,1"/>
<circle cx="206.60" cy="419.30" r="2.0" fill="#3a1550" />
<circle cx="202.90" cy="459.50" r="2.0" fill="#3a1550" />
<circle cx="210.00" cy="462.70" r="2.0" fill="#3a1550" />
<circle cx="202.90" cy="465.70" r="2.0" fill="#3a1550" />
<circle cx="210.00" cy="466.00" r="2.0" fill="#3a1550" />
<circle cx="206.60" cy="474.40" r="2.0" fill="#3a1550" />
<path d="M247.90,430.40 C247.97,430.40 248.00,432.75 248.10,434.00 C248.20,435.25 248.17,436.57 248.50,437.90 C248.83,439.23 249.43,440.48 250.10,442.00 C250.77,443.52 251.77,445.33 252.50,447.00 C253.23,448.67 253.93,450.12 254.50,452.00 C255.07,453.88 255.80,456.47 255.90,458.30 C256.00,460.13 255.57,461.38 255.10,463.00 C254.63,464.62 253.77,466.17 253.10,468.00 C252.43,469.83 251.70,472.00 251.10,474.00 C250.50,476.00 249.97,478.17 249.50,480.00 C249.03,481.83 248.55,483.33 248.30,485.00 C248.05,486.67 248.07,486.05 248.00,490.00 C247.93,493.95 247.93,508.70 247.90,508.70 C247.87,508.70 247.87,493.95 247.80,490.00 C247.73,486.05 247.75,486.67 247.50,485.00 C247.25,483.33 246.77,481.83 246.30,480.00 C245.83,478.17 245.30,476.00 244.70,474.00 C244.10,472.00 243.37,469.83 242.70,468.00 C242.03,466.17 241.17,464.62 240.70,463.00 C240.23,461.38 239.80,460.13 239.90,458.30 C240.00,456.47 240.73,453.88 241.30,452.00 C241.87,450.12 242.57,448.67 243.30,447.00 C244.03,445.33 245.03,443.52 245.70,442.00 C246.37,440.48 246.97,439.23 247.30,437.90 C247.63,436.57 247.60,435.25 247.70,434.00 C247.80,432.75 247.83,430.40 247.90,430.40 Z" fill="none" stroke="#f0a030" stroke-width="1"/>
<line x1="239.90" y1="458.30" x2="255.90" y2="458.30" stroke="#f0a030" stroke-width="1.3" />
<line x1="240.10" y1="460.20" x2="255.70" y2="460.20" stroke="#f0a030" stroke-width="1.3" />
<circle cx="241.40" cy="459.00" r="2.0" fill="#e88a25" />
<circle cx="249.00" cy="459.40" r="2.0" fill="#e88a25" />
<circle cx="247.90" cy="479.80" r="2.0" fill="#e88a25" />
<path d="M272.60,419.70 C272.73,419.70 272.67,422.45 273.00,424.00 C273.33,425.55 273.90,427.33 274.60,429.00 C275.30,430.67 276.37,431.98 277.20,434.00 C278.03,436.02 279.22,438.93 279.60,441.10 C279.98,443.27 279.60,445.02 279.50,447.00 C279.40,448.98 279.12,451.30 279.00,453.00 C278.88,454.70 278.77,455.87 278.80,457.20 C278.83,458.53 279.07,459.57 279.20,461.00 C279.33,462.43 279.67,464.13 279.60,465.80 C279.53,467.47 279.23,469.30 278.80,471.00 C278.37,472.70 277.60,474.33 277.00,476.00 C276.40,477.67 275.77,479.50 275.20,481.00 C274.63,482.50 273.97,483.95 273.60,485.00 C273.23,486.05 273.17,485.32 273.00,487.30 C272.83,489.28 272.73,496.90 272.60,496.90 C272.47,496.90 272.37,489.28 272.20,487.30 C272.03,485.32 271.97,486.05 271.60,485.00 C271.23,483.95 270.57,482.50 270.00,481.00 C269.43,479.50 268.80,477.67 268.20,476.00 C267.60,474.33 266.83,472.70 266.40,471.00 C265.97,469.30 265.67,467.47 265.60,465.80 C265.53,464.13 265.87,462.43 266.00,461.00 C266.13,459.57 266.37,458.53 266.40,457.20 C266.43,455.87 266.32,454.70 266.20,453.00 C266.08,451.30 265.80,448.98 265.70,447.00 C265.60,445.02 265.22,443.27 265.60,441.10 C265.98,438.93 267.17,436.02 268.00,434.00 C268.83,431.98 269.90,430.67 270.60,429.00 C271.30,427.33 271.87,425.55 272.20,424.00 C272.53,422.45 272.47,419.70 272.60,419.70 Z" fill="none" stroke="#4a2060" stroke-width="1"/>
<line x1="265.60" y1="443.30" x2="279.60" y2="443.30" stroke="#4a2060" stroke-width="0.8" />
<line x1="266.40" y1="458.30" x2="278.80" y2="458.30" stroke="#4a2060" stroke-width="0.8" />
<line x1="266.40" y1="471.20" x2="278.80" y2="471.20" stroke="#4a2060" stroke-width="0.8" />
<circle cx="272.60" cy="439.00" r="2.0" fill="#3a1550" />
<circle cx="272.60" cy="445.40" r="2.0" fill="#3a1550" />
<circle cx="272.60" cy="452.50" r="2.0" fill="#3a1550" />
<circle cx="272.60" cy="464.30" r="2.0" fill="#3a1550" />
<circle cx="272.60" cy="469.00" r="2.0" fill="#3a1550" />
<circle cx="272.60" cy="477.60" r="2.0" fill="#3a1550" />
<path d="M313.60,394.40 C313.67,394.40 313.67,398.23 313.80,400.00 C313.93,401.77 314.10,403.33 314.40,405.00 C314.70,406.67 315.13,408.17 315.60,410.00 C316.07,411.83 316.67,414.00 317.20,416.00 C317.73,418.00 318.30,420.00 318.80,422.00 C319.30,424.00 319.80,426.00 320.20,428.00 C320.60,430.00 320.97,432.20 321.20,434.00 C321.43,435.80 321.63,437.13 321.60,438.80 C321.57,440.47 321.37,442.30 321.00,444.00 C320.63,445.70 319.97,447.33 319.40,449.00 C318.83,450.67 318.17,452.50 317.60,454.00 C317.03,455.50 316.50,456.83 316.00,458.00 C315.50,459.17 314.93,460.17 314.60,461.00 C314.27,461.83 314.17,460.33 314.00,463.00 C313.83,465.67 313.73,477.00 313.60,477.00 C313.47,477.00 313.37,465.67 313.20,463.00 C313.03,460.33 312.93,461.83 312.60,461.00 C312.27,460.17 311.70,459.17 311.20,458.00 C310.70,456.83 310.17,455.50 309.60,454.00 C309.03,452.50 308.37,450.67 307.80,449.00 C307.23,447.33 306.57,445.70 306.20,444.00 C305.83,442.30 305.63,440.47 305.60,438.80 C305.57,437.13 305.77,435.80 306.00,434.00 C306.23,432.20 306.60,430.00 307.00,428.00 C307.40,426.00 307.90,424.00 308.40,422.00 C308.90,420.00 309.47,418.00 310.00,416.00 C310.53,414.00 311.13,411.83 311.60,410.00 C312.07,408.17 312.50,406.67 312.80,405.00 C313.10,403.33 313.27,401.77 313.40,400.00 C313.53,398.23 313.53,394.40 313.60,394.40 Z" fill="none" stroke="#f0a030" stroke-width="1"/>
<line x1="305.60" y1="438.80" x2="321.60" y2="438.80" stroke="#f0a030" stroke-width="0.8" />
<line x1="307.20" y1="427.30" x2="320.00" y2="427.30" stroke="#f0a030" stroke-width="0.7" />
<line x1="307.10" y1="446.00" x2="320.10" y2="446.00" stroke="#f0a030" stroke-width="0.7" />
<circle cx="313.40" cy="422.90" r="2.0" fill="#e88a25" />
<circle cx="313.40" cy="436.50" r="2.0" fill="#e88a25" />
<circle cx="313.40" cy="440.60" r="2.0" fill="#e88a25" />
<circle cx="313.40" cy="447.70" r="2.0" fill="#e88a25" />
<path d="M338.40,394.40 C338.50,394.40 338.53,398.40 338.70,400.00 C338.87,401.60 339.08,402.67 339.40,404.00 C339.72,405.33 340.28,406.50 340.60,408.00 C340.92,409.50 341.20,411.33 341.30,413.00 C341.40,414.67 341.28,416.22 341.20,418.00 C341.12,419.78 340.83,421.87 340.80,423.70 C340.77,425.53 340.80,427.22 341.00,429.00 C341.20,430.78 341.50,432.57 342.00,434.40 C342.50,436.23 343.33,438.23 344.00,440.00 C344.67,441.77 345.53,443.57 346.00,445.00 C346.47,446.43 346.77,447.27 346.80,448.60 C346.83,449.93 346.63,451.43 346.20,453.00 C345.77,454.57 344.90,456.33 344.20,458.00 C343.50,459.67 342.70,461.50 342.00,463.00 C341.30,464.50 340.53,465.83 340.00,467.00 C339.47,468.17 339.07,467.43 338.80,470.00 C338.53,472.57 338.53,482.40 338.40,482.40 C338.27,482.40 338.27,472.57 338.00,470.00 C337.73,467.43 337.33,468.17 336.80,467.00 C336.27,465.83 335.50,464.50 334.80,463.00 C334.10,461.50 333.30,459.67 332.60,458.00 C331.90,456.33 331.03,454.57 330.60,453.00 C330.17,451.43 329.97,449.93 330.00,448.60 C330.03,447.27 330.33,446.43 330.80,445.00 C331.27,443.57 332.13,441.77 332.80,440.00 C333.47,438.23 334.30,436.23 334.80,434.40 C335.30,432.57 335.60,430.78 335.80,429.00 C336.00,427.22 336.03,425.53 336.00,423.70 C335.97,421.87 335.68,419.78 335.60,418.00 C335.52,416.22 335.40,414.67 335.50,413.00 C335.60,411.33 335.88,409.50 336.20,408.00 C336.52,406.50 337.08,405.33 337.40,404.00 C337.72,402.67 337.93,401.60 338.10,400.00 C338.27,398.40 338.30,394.40 338.40,394.40 Z" fill="none" stroke="#4a2060" stroke-width="1"/>
<line x1="330.10" y1="447.90" x2="346.70" y2="447.90" stroke="#4a2060" stroke-width="0.8" />
<line x1="331.40" y1="454.20" x2="345.40" y2="454.20" stroke="#4a2060" stroke-width="0.8" />
<line x1="336.10" y1="423.00" x2="340.70" y2="423.00" stroke="#4a2060" stroke-width="0.8" stroke-dasharray="1.2,1"/>
<circle cx="338.30" cy="416.60" r="2.0" fill="#3a1550" />
<circle cx="338.30" cy="431.70" r="2.0" fill="#3a1550" />
<circle cx="338.30" cy="446.80" r="2.0" fill="#3a1550" />
<circle cx="334.80" cy="450.40" r="2.0" fill="#3a1550" />
<circle cx="342.20" cy="452.20" r="2.0" fill="#3a1550" />
<circle cx="338.30" cy="461.00" r="2.0" fill="#3a1550" />
<line x1="398.10" y1="379.10" x2="398.10" y2="513.50" stroke="#111" stroke-width="1.1" />
<line x1="395.00" y1="393.50" x2="398.50" y2="393.50" stroke="#111" stroke-width="1" />
<text x="392.20" y="396.32" font-size="8.4" text-anchor="end" fill="#2b2b2b" stroke="#2b2b2b" stroke-width="0.25" textLength="7.40" lengthAdjust="spacingAndGlyphs">12</text>
<line x1="395.00" y1="423.50" x2="398.50" y2="423.50" stroke="#111" stroke-width="1" />
<text x="392.20" y="426.28" font-size="8.4" text-anchor="end" fill="#2b2b2b" stroke="#2b2b2b" stroke-width="0.25">8</text>
<line x1="395.00" y1="453.50" x2="398.50" y2="453.50" stroke="#111" stroke-width="1" />
<text x="392.20" y="456.24" font-size="8.4" text-anchor="end" fill="#2b2b2b" stroke="#2b2b2b" stroke-width="0.25">4</text>
<line x1="395.00" y1="483.50" x2="398.50" y2="483.50" stroke="#111" stroke-width="1" />
<text x="392.20" y="486.20" font-size="8.4" text-anchor="end" fill="#2b2b2b" stroke="#2b2b2b" stroke-width="0.25">0</text>
<line x1="395.00" y1="513.50" x2="398.50" y2="513.50" stroke="#111" stroke-width="1" />
<text x="392.20" y="516.16" font-size="8.4" text-anchor="end" fill="#2b2b2b" stroke="#2b2b2b" stroke-width="0.25">−4</text>
<line x1="397.60" y1="513.70" x2="471.20" y2="513.70" stroke="#111" stroke-width="1.2" />
<line x1="434.50" y1="513.50" x2="434.50" y2="516.40" stroke="#111" stroke-width="1" />
<text x="434.40" y="526.60" font-size="8.3" text-anchor="middle" fill="#2b2b2b" stroke="#2b2b2b" stroke-width="0.25">CD34+</text>
<text transform="translate(379.40,447.60) rotate(-90)" font-size="9.6" text-anchor="middle" textLength="56.20" lengthAdjust="spacingAndGlyphs" fill="#2b2b2b" stroke="#2b2b2b" stroke-width="0.25">% of hCD45 cells</text>
<path d="M417.30,388.60 V385.00 H450.90 V388.60" fill="none" stroke="#222" stroke-width="1" />
<text x="434.10" y="381.60" font-size="7.3" text-anchor="middle" fill="#2b2b2b" stroke="#2b2b2b" stroke-width="0.25">ns</text>
<path d="M418.60,411.30 C418.67,411.30 418.70,415.88 418.80,418.00 C418.90,420.12 419.03,422.33 419.20,424.00 C419.37,425.67 419.53,426.33 419.80,428.00 C420.07,429.67 420.47,432.00 420.80,434.00 C421.13,436.00 421.50,438.33 421.80,440.00 C422.10,441.67 422.20,442.33 422.60,444.00 C423.00,445.67 423.60,448.00 424.20,450.00 C424.80,452.00 425.63,454.17 426.20,456.00 C426.77,457.83 427.23,459.30 427.60,461.00 C427.97,462.70 428.40,464.53 428.40,466.20 C428.40,467.87 428.07,469.37 427.60,471.00 C427.13,472.63 426.33,474.33 425.60,476.00 C424.87,477.67 423.97,479.50 423.20,481.00 C422.43,482.50 421.67,483.72 421.00,485.00 C420.33,486.28 419.57,487.53 419.20,488.70 C418.83,489.87 418.90,489.78 418.80,492.00 C418.70,494.22 418.67,502.00 418.60,502.00 C418.53,502.00 418.50,494.22 418.40,492.00 C418.30,489.78 418.37,489.87 418.00,488.70 C417.63,487.53 416.87,486.28 416.20,485.00 C415.53,483.72 414.77,482.50 414.00,481.00 C413.23,479.50 412.33,477.67 411.60,476.00 C410.87,474.33 410.07,472.63 409.60,471.00 C409.13,469.37 408.80,467.87 408.80,466.20 C408.80,464.53 409.23,462.70 409.60,461.00 C409.97,459.30 410.43,457.83 411.00,456.00 C411.57,454.17 412.40,452.00 413.00,450.00 C413.60,448.00 414.20,445.67 414.60,444.00 C415.00,442.33 415.10,441.67 415.40,440.00 C415.70,438.33 416.07,436.00 416.40,434.00 C416.73,432.00 417.13,429.67 417.40,428.00 C417.67,426.33 417.83,425.67 418.00,424.00 C418.17,422.33 418.30,420.12 418.40,418.00 C418.50,415.88 418.53,411.30 418.60,411.30 Z" fill="none" stroke="#f0a030" stroke-width="1"/>
<line x1="408.80" y1="466.20" x2="428.40" y2="466.20" stroke="#f0a030" stroke-width="1.0" />
<line x1="415.10" y1="448.70" x2="422.10" y2="448.70" stroke="#f0a030" stroke-width="0.8" stroke-dasharray="1.2,1"/>
<line x1="409.10" y1="468.80" x2="428.10" y2="468.80" stroke="#f0a030" stroke-width="0.8" stroke-dasharray="1.2,1"/>
<circle cx="418.90" cy="443.80" r="2.0" fill="#e88a25" />
<circle cx="415.10" cy="464.20" r="2.0" fill="#e88a25" />
<circle cx="415.10" cy="467.60" r="2.0" fill="#e88a25" />
<circle cx="422.50" cy="467.40" r="2.0" fill="#e88a25" />
<path d="M450.30,396.70 C450.43,396.70 450.47,400.28 450.70,402.00 C450.93,403.72 451.30,405.33 451.70,407.00 C452.10,408.67 452.60,410.17 453.10,412.00 C453.60,413.83 454.33,416.07 454.70,418.00 C455.07,419.93 455.30,421.77 455.30,423.60 C455.30,425.43 455.00,427.27 454.70,429.00 C454.40,430.73 453.77,432.47 453.50,434.00 C453.23,435.53 453.00,436.70 453.10,438.20 C453.20,439.70 453.53,441.20 454.10,443.00 C454.67,444.80 455.77,447.00 456.50,449.00 C457.23,451.00 458.00,453.17 458.50,455.00 C459.00,456.83 459.28,458.50 459.50,460.00 C459.72,461.50 459.83,462.33 459.80,464.00 C459.77,465.67 459.62,468.00 459.30,470.00 C458.98,472.00 458.47,474.00 457.90,476.00 C457.33,478.00 456.60,480.00 455.90,482.00 C455.20,484.00 454.37,486.33 453.70,488.00 C453.03,489.67 452.40,490.77 451.90,492.00 C451.40,493.23 450.97,493.15 450.70,495.40 C450.43,497.65 450.43,505.50 450.30,505.50 C450.17,505.50 450.17,497.65 449.90,495.40 C449.63,493.15 449.20,493.23 448.70,492.00 C448.20,490.77 447.57,489.67 446.90,488.00 C446.23,486.33 445.40,484.00 444.70,482.00 C444.00,480.00 443.27,478.00 442.70,476.00 C442.13,474.00 441.62,472.00 441.30,470.00 C440.98,468.00 440.83,465.67 440.80,464.00 C440.77,462.33 440.88,461.50 441.10,460.00 C441.32,458.50 441.60,456.83 442.10,455.00 C442.60,453.17 443.37,451.00 444.10,449.00 C444.83,447.00 445.93,444.80 446.50,443.00 C447.07,441.20 447.40,439.70 447.50,438.20 C447.60,436.70 447.37,435.53 447.10,434.00 C446.83,432.47 446.20,430.73 445.90,429.00 C445.60,427.27 445.30,425.43 445.30,423.60 C445.30,421.77 445.53,419.93 445.90,418.00 C446.27,416.07 447.00,413.83 447.50,412.00 C448.00,410.17 448.50,408.67 448.90,407.00 C449.30,405.33 449.67,403.72 449.90,402.00 C450.13,400.28 450.17,396.70 450.30,396.70 Z" fill="none" stroke="#4a2060" stroke-width="1"/>
<line x1="441.10" y1="459.50" x2="459.50" y2="459.50" stroke="#4a2060" stroke-width="0.8" />
<line x1="447.30" y1="440.40" x2="453.30" y2="440.40" stroke="#4a2060" stroke-width="0.8" stroke-dasharray="1.2,1"/>
<line x1="442.50" y1="476.30" x2="458.10" y2="476.30" stroke="#4a2060" stroke-width="0.8" stroke-dasharray="1.2,1"/>
<rect x="448.80" y="423.30" width="3.0" height="3.0" fill="#3a1550"/>
<rect x="445.00" y="458.00" width="3.0" height="3.0" fill="#3a1550"/>
<rect x="452.40" y="454.20" width="3.0" height="3.0" fill="#3a1550"/>
<rect x="445.00" y="475.90" width="3.0" height="3.0" fill="#3a1550"/>
<rect x="452.40" y="473.70" width="3.0" height="3.0" fill="#3a1550"/>
</svg>
</body></html>
